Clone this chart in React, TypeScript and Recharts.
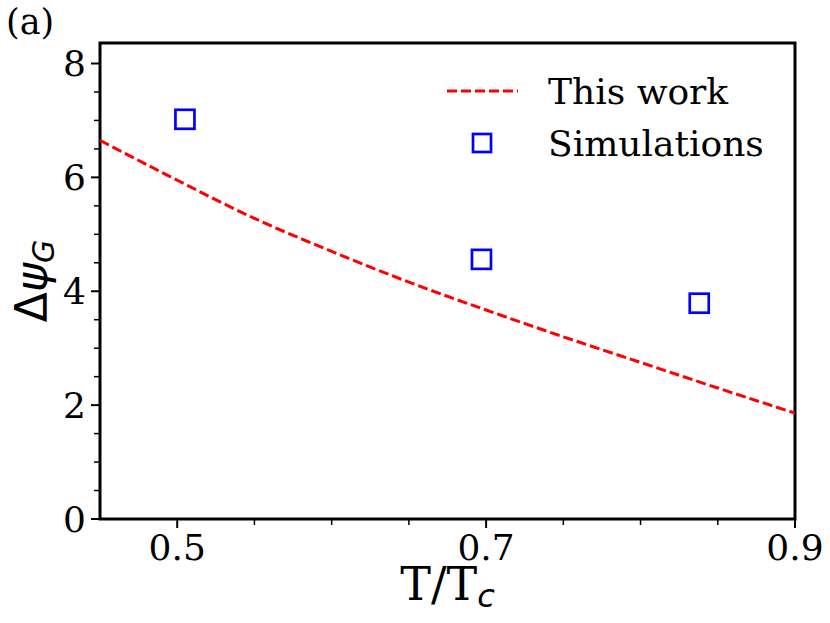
import { ComposedChart, Line, Scatter, XAxis, YAxis, Legend, Label, ReferenceArea } from "recharts";

const FONT_SERIF = "'DejaVu Serif', serif";
const FONT_SANS = "'DejaVu Sans', sans-serif";
const LINE_COLOR = "#ff0000";
const SIM_COLOR = "#0000ff";

// "This work" curve
const thisWorkT = [0.45, 0.5, 0.55, 0.6, 0.65, 0.7, 0.75, 0.8, 0.85, 0.9];
const thisWorkPsi = [6.65, 5.95, 5.28, 4.7, 4.16, 3.67, 3.2, 2.75, 2.3, 1.86];

// simulation points
const simT = [0.505, 0.697, 0.838];
const simPsi = [7.02, 4.56, 3.79];

const xTicks = [0.5, 0.55, 0.6, 0.65, 0.7, 0.75, 0.8, 0.85, 0.9];
const xLabels = [0.5, 0.7, 0.9];
const yTicks = [0, 0.5, 1, 1.5, 2, 2.5, 3, 3.5, 4, 4.5, 5, 5.5, 6, 6.5, 7, 7.5, 8];
const yLabels = [0, 2, 4, 6, 8];

const X_DOMAIN = [0.45, 0.9];
const Y_DOMAIN = [0, 8.36];

const seriesOrder = ["This work", "Simulations"];

const lineData = thisWorkT.map((t, i) => ({ t, psi: thisWorkPsi[i] }));
const simData = simT.map((t, i) => ({ t, psi: simPsi[i] }));

function XTick({ x, y, payload }: any) {
  const major = xLabels.includes(payload.value);
  return (
    <g>
      <line x1={x} x2={x} y1={y + 1} y2={y + (major ? 9 : 6)} stroke="#000" strokeWidth={major ? 2 : 1.5} />
      {major && (
        <text x={x} y={y + 41} textAnchor="middle" fontSize={36} fontFamily={FONT_SERIF} fill="#000">
          {payload.value}
        </text>
      )}
    </g>
  );
}

function YTick({ x, y, payload }: any) {
  const major = yLabels.includes(payload.value);
  return (
    <g>
      <line x1={x - (major ? 9 : 6)} x2={x - 1} y1={y} y2={y} stroke="#000" strokeWidth={major ? 2 : 1.5} />
      {major && (
        <text x={x - 14} y={y} dy="0.36em" textAnchor="end" fontSize={36} fontFamily={FONT_SERIF} fill="#000">
          {payload.value}
        </text>
      )}
    </g>
  );
}

function XTitle({ viewBox }: any) {
  const cx = viewBox.x + viewBox.width / 2;
  return (
    <text x={cx} y={viewBox.y + 81} textAnchor="middle" fontSize={46} fontFamily={FONT_SERIF} fill="#000">
      T/T
      <tspan fontFamily={FONT_SANS} fontStyle="italic" fontSize={32} dy={7}>
        c
      </tspan>
    </text>
  );
}

function YTitle({ viewBox }: any) {
  const cy = viewBox.y + viewBox.height / 2;
  const x = viewBox.x + 47;
  return (
    <text
      transform={`rotate(-90 ${x} ${cy})`}
      x={x}
      y={cy}
      textAnchor="middle"
      fontSize={44}
      fontFamily={FONT_SANS}
      fill="#000"
    >
      Δ<tspan fontStyle="italic">ψ</tspan>
      <tspan fontStyle="italic" fontSize={30} dy={7}>
        G
      </tspan>
    </text>
  );
}

function LegendBox({ payload }: any) {
  const items = [...(payload ?? [])].sort(
    (a: any, b: any) => seriesOrder.indexOf(a.value) - seriesOrder.indexOf(b.value)
  );
  return (
    <svg width={340} height={115}>
      {items.map((item: any, i: number) => {
        const cy = 31 + i * 52;
        return (
          <g key={item.value}>
            {item.type === "line" ? (
              <line x1={7} x2={78} y1={cy} y2={cy} stroke={LINE_COLOR} strokeWidth={3} strokeDasharray="10 4" />
            ) : (
              <rect x={33} y={cy - 9} width={18} height={18} fill="none" stroke={SIM_COLOR} strokeWidth={2.7} />
            )}
            <text x={108} y={cy + 13} fontSize={36} fontFamily={FONT_SERIF} fill="#000">
              {item.value}
            </text>
          </g>
        );
      })}
    </svg>
  );
}

export default function App() {
  return (
    <div style={{ position: "absolute", left: 0, top: 0, width: 830, height: 623, background: "#fff" }}>
      <ComposedChart width={830} height={623} margin={{ top: 43, right: 35, bottom: 0, left: 0 }}>
        <XAxis
          xAxisId="x"
          type="number"
          dataKey="t"
          domain={X_DOMAIN}
          ticks={xTicks}
          interval={0}
          tick={<XTick />}
          tickLine={false}
          tickSize={0}
          tickMargin={0}
          height={104}
          axisLine={false}
          allowDataOverflow
        >
          <Label content={(p: any) => <XTitle {...p} />} />
        </XAxis>
        <YAxis
          yAxisId="y"
          type="number"
          domain={Y_DOMAIN}
          ticks={yTicks}
          interval={0}
          tick={<YTick />}
          tickLine={false}
          tickSize={0}
          tickMargin={0}
          width={100}
          axisLine={false}
          allowDataOverflow
        >
          <Label content={(p: any) => <YTitle {...p} />} />
        </YAxis>
        <Line
          xAxisId="x"
          yAxisId="y"
          data={lineData}
          dataKey="psi"
          name="This work"
          type="monotone"
          stroke={LINE_COLOR}
          strokeWidth={3}
          strokeDasharray="10 4"
          dot={false}
          activeDot={false}
          legendType="line"
          isAnimationActive={false}
        />
        <Scatter
          xAxisId="x"
          yAxisId="y"
          data={simData}
          dataKey="psi"
          name="Simulations"
          fill={SIM_COLOR}
          legendType="square"
          isAnimationActive={false}
          shape={(p: any) => (
            <rect
              x={p.cx - 9.5}
              y={p.cy - 9.5}
              width={19}
              height={19}
              fill="none"
              stroke={SIM_COLOR}
              strokeWidth={2.7}
            />
          )}
        />
        {/* plot frame (all four spines) */}
        <ReferenceArea
          xAxisId="x"
          yAxisId="y"
          x1={X_DOMAIN[0]}
          x2={X_DOMAIN[1]}
          y1={Y_DOMAIN[0]}
          y2={Y_DOMAIN[1]}
          fill="none"
          fillOpacity={0}
          stroke="#000"
          strokeWidth={3}
          strokeOpacity={1}
          ifOverflow="visible"
        />
        <Legend
          layout="vertical"
          align="center"
          verticalAlign="middle"
          content={(p: any) => <LegendBox {...p} />}
          wrapperStyle={{ position: "absolute", top: 60, left: 440, width: 340, height: 115 }}
        />
      </ComposedChart>
      <svg style={{ position: "absolute", left: 0, top: 0 }} width={80} height={50}>
        <text x={6} y={34} fontSize={35} fontFamily={FONT_SERIF} fill="#000">
          (a)
        </text>
      </svg>
    </div>
  );
}
